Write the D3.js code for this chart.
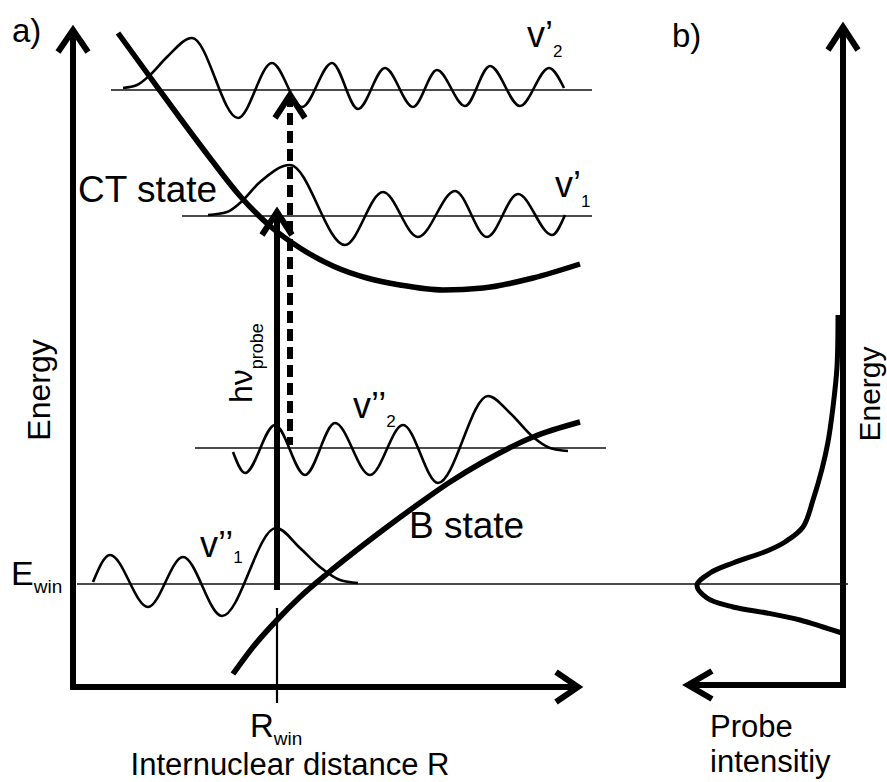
<!DOCTYPE html>
<html>
<head>
<meta charset="utf-8">
<script src="https://cdn.jsdelivr.net/npm/d3@7"></script>
<style>
  html, body { margin: 0; padding: 0; background: #fff; }
  svg { display: block; font-family: "Liberation Sans", Arial, Helvetica, sans-serif; }
</style>
</head>
<body>
<svg id="chart" width="887" height="782"></svg>
<script>
// ---- Potential energy curves, [R, E] in arbitrary units ----
const ctState = [[45,654],[77,610],[107,569],[137,529],[167,491],[197,461],[227,439],[260,421],
                 [294,409],[327,402],[370,397],[410,399],[460,409],[507,423]];
const bState  = [[160,13],[180,40],[204,67],[227,90],[255,114],[280,134],[310,157],[344,182],
                 [377,205],[410,225],[460,250],[507,265]];

// ---- Vibrational levels: energy and drawn extent of the level line ----
const levelNames  = ["v’2", "v’1", "v’’2", "v’’1"];
const levelEnergy = [597, 471, 239, 103];
const levelStart  = [38, 109, 122, 4];
const levelEnd    = [519, 519, 533, 775];

// ---- Wavefunctions sketched on each level, [R, E] ----
const waveUp2  = [[50,599],[64,602],[77,612],[94,630],[119,649],[165,569],[199,624],[229,580],[259,624],
                  [285,578],[312,619],[340,580],[364,617],[392,581],[417,621],[447,581],[476,619],[491,599]];
const waveUp1  = [[135,472],[154,475],[167,484],[187,505],[217,522],[272,442],[310,495],[345,450],
                  [382,496],[414,450],[445,493],[479,452],[492,472]];
const waveLow2 = [[160,235],[172,214],[202,262],[232,212],[262,264],[297,212],[330,262],[365,204],
                  [415,291],[437,274],[460,250],[477,239],[495,236]];
const waveLow1 = [[20,105],[37,132],[75,80],[110,130],[149,71],[203,159],[227,139],[247,120],[267,107],[285,104]];

// ---- Probe spectrum, [intensity, E] ----
const probeProfile = [[5,372],[6,320],[10,280],[15,245],[21,218],[30,187],[40,160],[58,145],[76,136],[110,124],
                      [133,114],[146,102],[136,89],[110,80],[76,74],[43,67],[20,60],[1,54]];

// ---- Transitions and window position ----
const rWin = 204;
const probeArrow  = {r: 204, from: 97,  to: 475};   // h nu probe
const dashedArrow = {r: 217, from: 242, to: 592};
const rWinTick    = [79, -16];

// ---- Axes extents ----
const axisA = {eTop: 657, rEnd: 505};
const axisB = {eTop: 660, eBase: 2, iEnd: 155};

// ---- Scales ----
const xR = d3.scaleLinear().domain([0, 510]).range([73, 583]);
const yE = d3.scaleLinear().domain([0, 662]).range([687, 25]);
const xI = d3.scaleLinear().domain([0, 160]).range([843, 683]);

const svg = d3.select("#chart");
svg.append("rect").attr("width", 887).attr("height", 782).attr("fill", "#fff");

const ink = "#000";

function arrowHead(tip, dir, along, half, width) {
  const [dx, dy] = dir;
  const px = -dy, py = dx;
  const base = [tip[0] - dx * along, tip[1] - dy * along];
  const pts = [[base[0] + px * half, base[1] + py * half], tip, [base[0] - px * half, base[1] - py * half]];
  svg.append("path")
    .attr("d", d3.line()(pts))
    .attr("fill", "none").attr("stroke", ink)
    .attr("stroke-width", width).attr("stroke-linejoin", "miter").attr("stroke-miterlimit", 10);
}

// ---- Panel a axes ----
svg.append("path")
  .attr("d", d3.line()([[xR(0), yE(axisA.eTop)], [xR(0), yE(0)], [xR(axisA.rEnd), yE(0)]]))
  .attr("fill", "none").attr("stroke", ink).attr("stroke-width", 6).attr("stroke-linejoin", "miter");
arrowHead([xR(0), yE(axisA.eTop)], [0, -1], 22, 15, 6);
arrowHead([xR(axisA.rEnd), yE(0)], [1, 0], 22, 15, 6);

// ---- Panel b axes ----
svg.append("path")
  .attr("d", d3.line()([[xI(0), yE(axisB.eTop)], [xI(0), yE(axisB.eBase)], [xI(axisB.iEnd), yE(axisB.eBase)]]))
  .attr("fill", "none").attr("stroke", ink).attr("stroke-width", 6).attr("stroke-linejoin", "miter");
arrowHead([xI(0), yE(axisB.eTop)], [0, -1], 23, 15, 6);
arrowHead([xI(axisB.iEnd), yE(axisB.eBase)], [-1, 0], 24, 14, 6);

// ---- Level lines ----
levelEnergy.forEach((e, i) => {
  svg.append("line")
    .attr("x1", xR(levelStart[i])).attr("x2", xR(levelEnd[i]))
    .attr("y1", yE(e)).attr("y2", yE(e))
    .attr("stroke", "#111").attr("stroke-width", 1.3);
});

// ---- Wavefunctions ----
const waveLine = d3.line().x(d => xR(d[0])).y(d => yE(d[1])).curve(d3.curveMonotoneX);
[waveUp2, waveUp1, waveLow2, waveLow1].forEach(w => {
  svg.append("path").attr("d", waveLine(w))
    .attr("fill", "none").attr("stroke", ink).attr("stroke-width", 2.6);
});

// ---- Potential curves ----
const potLine = d3.line().x(d => xR(d[0])).y(d => yE(d[1])).curve(d3.curveMonotoneX);
[ctState, bState].forEach(c => {
  svg.append("path").attr("d", potLine(c))
    .attr("fill", "none").attr("stroke", ink).attr("stroke-width", 5.5);
});

// ---- R_win tick ----
svg.append("line")
  .attr("x1", xR(rWin)).attr("x2", xR(rWin)).attr("y1", yE(rWinTick[0])).attr("y2", yE(rWinTick[1]))
  .attr("stroke", ink).attr("stroke-width", 2.2);

// ---- Probe transition (solid) ----
svg.append("line")
  .attr("x1", xR(probeArrow.r)).attr("x2", xR(probeArrow.r))
  .attr("y1", yE(probeArrow.from)).attr("y2", yE(probeArrow.to))
  .attr("stroke", ink).attr("stroke-width", 6);
arrowHead([xR(probeArrow.r), yE(probeArrow.to)], [0, -1], 23, 15, 6);

// ---- Second transition (dashed) ----
svg.append("line")
  .attr("x1", xR(dashedArrow.r)).attr("x2", xR(dashedArrow.r))
  .attr("y1", yE(dashedArrow.to)).attr("y2", yE(dashedArrow.from))
  .attr("stroke", ink).attr("stroke-width", 6).attr("stroke-dasharray", "12,6");
arrowHead([xR(dashedArrow.r), yE(dashedArrow.to)], [0, -1], 23, 15, 6);

// ---- Probe spectrum in panel b ----
const probeLine = d3.line().x(d => xI(d[0])).y(d => yE(d[1])).curve(d3.curveCatmullRom.alpha(0.5));
svg.append("path").attr("d", probeLine(probeProfile))
  .attr("fill", "none").attr("stroke", ink).attr("stroke-width", 5);

// ---- Text ----
function label(x, y, parts, opts = {}) {
  const t = svg.append("text").attr("x", x).attr("y", y).attr("fill", ink);
  if (opts.rotate) t.attr("transform", `rotate(-90, ${x}, ${y})`);
  if (opts.anchor) t.attr("text-anchor", opts.anchor);
  parts.forEach(p => {
    const s = t.append("tspan").text(p.text).attr("font-size", p.size);
    if (p.dy) s.attr("dy", p.dy);
  });
  return t;
}

label(12, 42, [{text: "a)", size: 33}]);
label(672, 47, [{text: "b)", size: 33}]);

label(xR(5), yE(485), [{text: "CT state", size: 37}]);
label(xR(336), yE(149), [{text: "B state", size: 37}]);

// vibrational level labels
const levelLabelPos = [[454, 640, 10], [482, 490, 10], [280, 269, 9], [127, 130, 6]];
levelNames.forEach((n, i) => {
  const main = n.slice(0, -1), sub = n.slice(-1);
  const [r, e, d] = levelLabelPos[i];
  label(xR(r), yE(e), [{text: main, size: 36}, {text: sub, size: 17, dy: d}]);
});

// E_win and R_win
label(11, yE(levelEnergy[3]) + 1, [{text: "E", size: 34}, {text: "win", size: 19, dy: 8}]);
label(xR(rWin) - 27, 737, [{text: "R", size: 33}, {text: "win", size: 19, dy: 8}]);

// h nu probe (rotated)
label(252, 403, [{text: "hν", size: 32}, {text: "probe", size: 18, dy: 11}], {rotate: true});

// axis titles
label(290, 775, [{text: "Internuclear distance R", size: 31}], {anchor: "middle"});
label(50, 390, [{text: "Energy", size: 32}], {rotate: true, anchor: "middle"});
label(880, 394, [{text: "Energy", size: 30}], {rotate: true, anchor: "middle"});
label(710, 737, [{text: "Probe", size: 31}]);
label(710, 772, [{text: "intensitiy", size: 31}]);
</script>
</body>
</html>
